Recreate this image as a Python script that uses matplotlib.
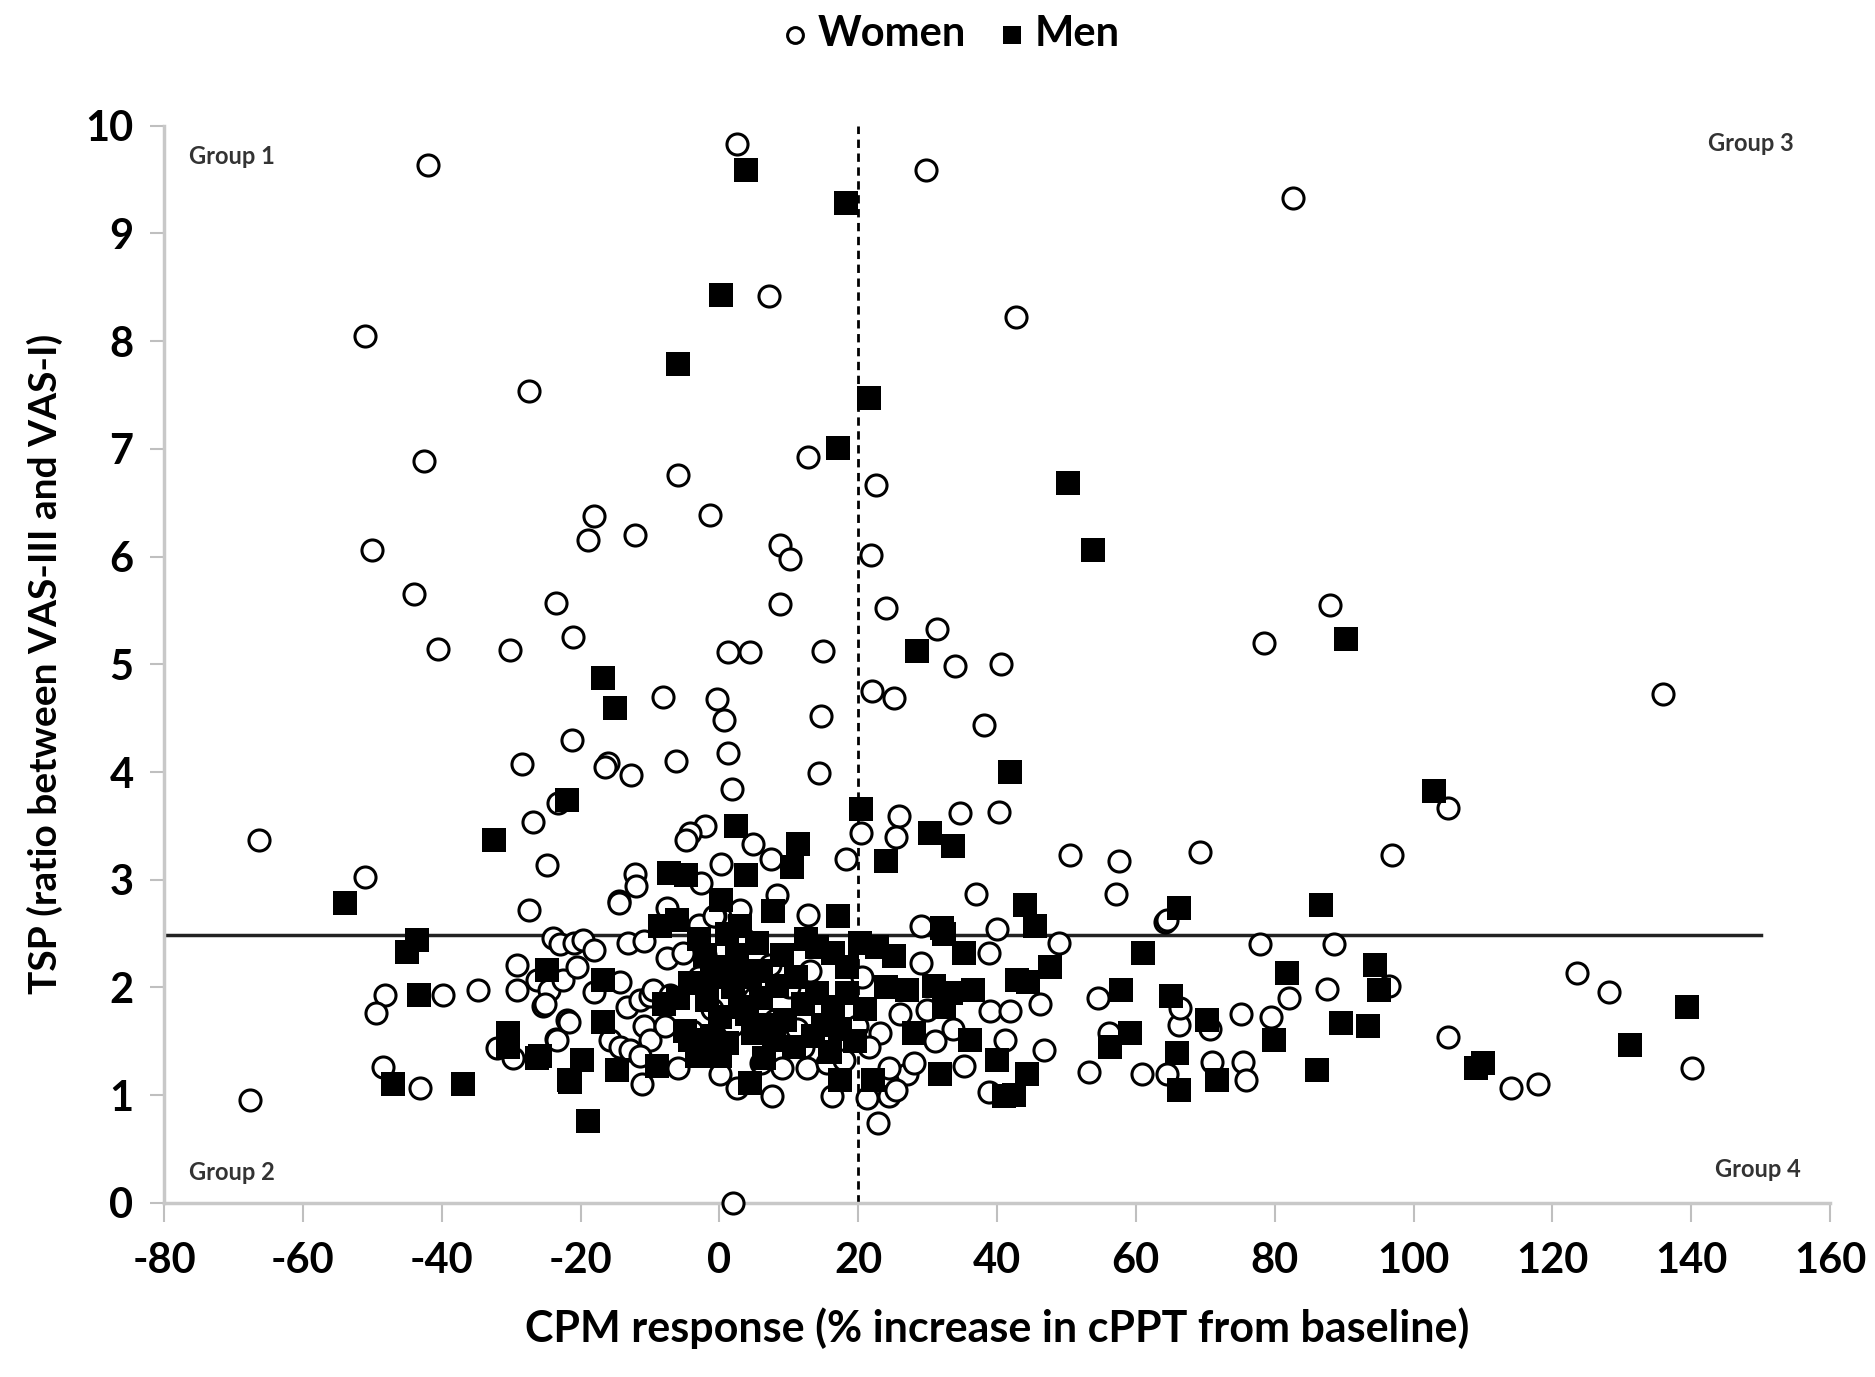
import matplotlib
matplotlib.use("Agg")
import matplotlib.pyplot as plt

plt.rcParams['font.family'] = ['Lato', 'DejaVu Sans']
plt.rcParams['font.weight'] = 'bold'
plt.rcParams['axes.unicode_minus'] = False

# CPM response (x) and TSP (y)
women_x = [-42, 2.5, 29.8, 82.6, 7.2, 42.7, -51.1, -27.4, -42.6, 12.7, -5.9, 22.6, -1.4, -18, -18.9,
           -12.2, -50, 8.8, 10.2, 21.8, -44, -23.5, 8.8, 24, 88, 31.4, -21.1, -40.6, -30.2, 1.3,
           4.4, 14.9, 33.9, 40.5, 78.4, -8.1, -0.4, 0.7, 22, 25.1, 136, 14.6, 38.1, -21.3, -28.5,
           -16.1, -16.5, -12.8, -6.2, 1.3, 14.3, 1.8, -26.9, -23.3, -66.3, -24.9, -51.1, -27.4, -2, -4.2,
           -4.8, 0.2, -12.2, -12, -14.4, -7.5, -2.6, -0.7, 2.9, 4.9, 7.4, 25.9, 34.7, 40.3, 20.4,
           25.4, 18.2, 50.5, 57.6, 69.2, 37, 57.1, 8.3, 12.7, 64.2, 29, 40, 104.9, 96.9, -14.5,
           -24, -23, -29.1, -29.1, -26.3, -24.5, -25.4, -22.5, -22, -23.5, -32, -29.8, -48.2, -49.4, -39.8,
           -34.8, -48.4, -43.1, -67.6, -21, -19.6, -18.1, -20.5, -18.1, -25.1, -21.7, -23.4, -14.3, -13.3, -11.4,
           -10, -9.5, -7.1, -10.9, -10, -7.8, -15.7, -14.3, -12.9, -11.4, -11.2, -13.1, -10.9, -7.6, -5.2,
           -3, -0.8, 7.3, 0.1, 2.5, 7.6, 11.2, 12.6, 15.5, 16.2, 17.9, 19.8, 23.2, 22.9, 24.4,
           21.2, 27, 29, 29.9, 33.7, 2, -3, -1, 2, 5, 6, 8, 10, -4, -2,
           3.5, 12, 9, -6, 13, 15, 20.5, 21.5, 26, 28, 31, 24.5, 25.5, 38.8, 48.9,
           39, 41.9, 46.2, 46.7, 41.2, 35.2, 38.8, 54.6, 53.2, 56.1, 60.9, 64.5, 64.5, 66.2, 66.4,
           70.7, 71, 75.1, 75.5, 75.8, 79.4, 82, 77.9, 88.5, 87.5, 96.5, 104.9, 114.1, 117.9, 123.6,
           128.2, 140.1]
women_y = [9.63, 9.83, 9.59, 9.33, 8.42, 8.22, 8.05, 7.54, 6.89, 6.92, 6.76, 6.66, 6.39, 6.38, 6.15,
           6.2, 6.06, 6.11, 5.98, 6.01, 5.65, 5.57, 5.56, 5.52, 5.55, 5.33, 5.25, 5.14, 5.13, 5.11,
           5.11, 5.12, 4.98, 5.0, 5.2, 4.7, 4.68, 4.48, 4.75, 4.69, 4.72, 4.52, 4.44, 4.3, 4.07,
           4.08, 4.05, 3.97, 4.1, 4.18, 3.99, 3.84, 3.54, 3.71, 3.37, 3.14, 3.03, 2.72, 3.5, 3.43,
           3.37, 3.15, 3.05, 2.94, 2.8, 2.74, 2.97, 2.66, 2.72, 3.33, 3.19, 3.59, 3.62, 3.63, 3.43,
           3.4, 3.19, 3.23, 3.17, 3.26, 2.87, 2.87, 2.86, 2.67, 2.61, 2.57, 2.54, 3.67, 3.23, 2.78,
           2.46, 2.4, 2.21, 1.98, 2.07, 1.98, 1.83, 2.07, 1.7, 1.52, 1.44, 1.35, 1.93, 1.76, 1.93,
           1.98, 1.26, 1.07, 0.96, 2.41, 2.44, 2.35, 2.19, 1.96, 1.85, 1.68, 1.51, 2.05, 1.82, 1.88,
           1.92, 1.98, 1.93, 1.64, 1.51, 1.64, 1.51, 1.45, 1.42, 1.36, 1.1, 2.41, 2.43, 2.27, 2.32,
           2.58, 2.66, 2.21, 1.2, 1.07, 0.99, 1.61, 1.25, 1.3, 0.99, 1.33, 1.64, 1.58, 0.74, 0.99,
           0.97, 1.2, 2.23, 1.79, 1.61, 0.0, 2.1, 1.8, 1.65, 1.9, 1.3, 1.7, 2.0, 1.6, 2.3,
           2.45, 1.45, 1.25, 1.25, 2.15, 1.55, 2.1, 1.45, 1.75, 1.3, 1.5, 1.25, 1.05, 2.32, 2.41,
           1.78, 1.78, 1.85, 1.42, 1.51, 1.27, 1.03, 1.9, 1.22, 1.58, 1.2, 1.2, 2.63, 1.65, 1.81,
           1.61, 1.31, 1.75, 1.31, 1.14, 1.73, 1.9, 2.4, 2.4, 1.99, 2.01, 1.54, 1.07, 1.1, 2.13,
           1.96, 1.25]

men_x = [3.8, 18.2, 0.2, -5.9, 21.5, 17.1, 50.2, 53.8, 90.3, 28.4, -16.7, -15, 41.9, -21.9, 102.9,
         20.4, -32.4, 2.4, 3.8, 11.3, 10.5, 24, 30.3, 33.6, -7.3, -4.8, -53.9, 0.2, 7.7, 17.1,
         44.1, 66.2, 86.7, 32, 45.5, -43.5, -45, -43.3, -47, -36.9, -30.4, -30.4, -26.3, -24.8, -21.5,
         -16.7, -16.7, -19.8, -21.7, -18.9, -14.8, -9, -25.8, -8.5, -6.1, -4.2, -1.8, 1.1, 3, 5.4,
         1.1, 4.4, 8.3, 3, 0.1, -4.2, -3.2, 1.1, 0.1, 4.9, 4.4, 7.8, 10.7, 14.1, 16.4,
         14.1, 16.4, 18.4, 17.4, 18.4, 17.4, 22.2, 20.3, 22.7, 25.1, 27, 30.9, 32.3, 28, 31.8,
         33.3, -2, 2, 6, 9, -1, 6.5, 12, 15, 21, 24, -6, 35.2, 47.7, 42.9,
         36.6, 32.3, 36.1, 40, 44.3, 41, 61.1, 57.8, 65, 59.2, 56.3, 65.9, 66.2, 70.2, 71.7,
         81.8, 79.9, 86.1, 89.5, 42.5, 44.5, 94.5, 95, 93.5, 110, 109, 131.2, 139.4,
         -3, 2.5, 6, 9.5, 11, 13.5, -1, 4, 7, 12.5, 16, 19.5, -8, -5]
men_y = [9.59, 9.28, 8.43, 7.79, 7.47, 7.01, 6.68, 6.06, 5.23, 5.12, 4.87, 4.59, 4.0, 3.74, 3.82,
         3.66, 3.37, 3.5, 3.04, 3.33, 3.12, 3.17, 3.43, 3.31, 3.06, 3.04, 2.78, 2.81, 2.71, 2.66,
         2.77, 2.74, 2.77, 2.55, 2.57, 2.44, 2.33, 1.93, 1.1, 1.1, 1.58, 1.45, 1.35, 2.16, 1.12,
         2.07, 1.68, 1.33, 1.14, 0.76, 1.23, 1.27, 1.36, 2.57, 2.63, 2.04, 1.88, 2.5, 2.57, 2.41,
         2.19, 2.1, 2.01, 1.82, 1.73, 1.51, 1.36, 1.48, 1.36, 1.58, 1.11, 1.51, 1.45, 2.38, 2.32,
         1.95, 1.82, 1.95, 1.61, 2.19, 1.14, 1.14, 2.41, 2.38, 2.29, 1.98, 2.01, 2.5, 1.58, 1.2,
         1.95, 2.3, 2.0, 1.9, 2.3, 1.55, 1.35, 1.85, 1.65, 1.8, 2.0, 1.9, 2.32, 2.19, 2.07,
         1.98, 1.82, 1.51, 1.33, 1.2, 0.99, 2.32, 1.98, 1.92, 1.58, 1.45, 1.39, 1.05, 1.7, 1.14,
         2.13, 1.51, 1.23, 1.67, 1.0, 2.05, 2.21, 1.98, 1.64, 1.30, 1.25, 1.47, 1.82,
         2.45, 2.3, 2.15, 1.7, 2.1, 1.55, 2.1, 1.75, 1.65, 2.45, 1.4, 1.5, 1.85, 1.6]

x_ticks = [-80, -60, -40, -20, 0, 20, 40, 60, 80, 100, 120, 140, 160]
y_ticks = [0, 1, 2, 3, 4, 5, 6, 7, 8, 9, 10]
tsp_cut = 2.49
cpm_cut = 20

fig = plt.figure(figsize=(18.75, 13.77), dpi=100)
ax = fig.add_axes([0.0875, 0.1264, 0.8885, 0.7824])

ax.scatter(women_x, women_y, marker='o', s=230, facecolors='white', edgecolors='black',
           linewidths=2.2, label='Women', zorder=3, clip_on=False)
ax.scatter(men_x, men_y, marker='s', s=300, c='black', edgecolors='black', linewidths=0,
           label='Men', zorder=4, clip_on=False)

ax.plot([-80, 150], [tsp_cut, tsp_cut], color='#222222', lw=2.5, zorder=2)
ax.plot([cpm_cut, cpm_cut], [0, 10], color='black', lw=2, ls=(0, (3, 2)), zorder=2)

ax.text(-70.2, 9.71, 'Group 1', fontsize=17, ha='center', va='center', color='#333333')
ax.text(-70.2, 0.28, 'Group 2', fontsize=17, ha='center', va='center', color='#333333')
ax.text(148.6, 9.83, 'Group 3', fontsize=17, ha='center', va='center', color='#333333')
ax.text(149.6, 0.31, 'Group 4', fontsize=17, ha='center', va='center', color='#333333')

ax.set_xlim(-80, 160)
ax.set_ylim(0, 10)
ax.set_xticks(x_ticks)
ax.set_yticks(y_ticks)
ax.tick_params(axis='both', labelsize=30, colors='#bfbfbf', labelcolor='black', width=1.5)
ax.tick_params(axis='x', length=14, pad=14)
ax.tick_params(axis='y', length=10, pad=12)
for side in ['top', 'right']:
    ax.spines[side].set_visible(False)
for side in ['left', 'bottom']:
    ax.spines[side].set_color('#c8c8c8')
    ax.spines[side].set_linewidth(2.5)

ax.set_xlabel('CPM response (% increase in cPPT from baseline)', fontsize=31,
              fontweight='bold', labelpad=20)
ax.set_ylabel('TSP (ratio between VAS-III and VAS-I)', fontsize=28,
              fontweight='bold', labelpad=16)

handles, labels = ax.get_legend_handles_labels()
fig.legend(handles, labels, loc='center', bbox_to_anchor=(0.505, 0.975), ncol=2,
           frameon=False, fontsize=30, handletextpad=0.05, handlelength=1.0,
           columnspacing=0.6, markerscale=0.75)

fig.savefig('out.png', dpi=100)
